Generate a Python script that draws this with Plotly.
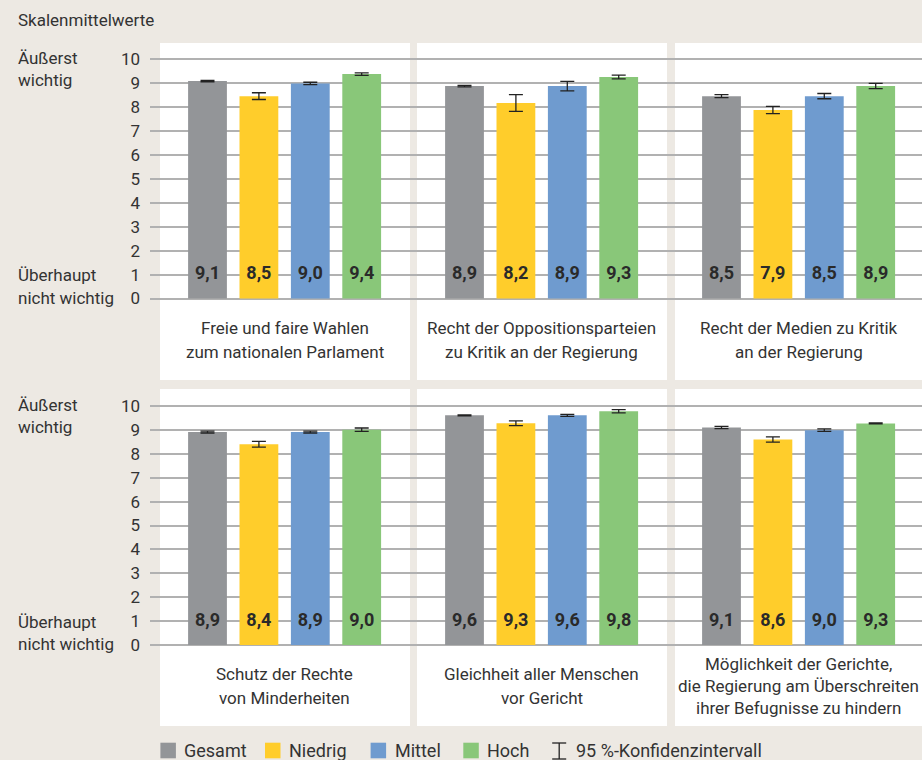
import plotly.graph_objects as go

# ---------------- data ----------------
groups = ["Gesamt", "Niedrig", "Mittel", "Hoch"]
group_colors = ["#939598", "#ffcd2b", "#6f9bcf", "#89c779"]

categories = [
    ["Freie und faire Wahlen", "zum nationalen Parlament"],
    ["Recht der Oppositionsparteien", "zu Kritik an der Regierung"],
    ["Recht der Medien zu Kritik", "an der Regierung"],
    ["Schutz der Rechte", "von Minderheiten"],
    ["Gleichheit aller Menschen", "vor Gericht"],
    ["Möglichkeit der Gerichte,", "die Regierung am Überschreiten", "ihrer Befugnisse zu hindern"],
]

mean_gesamt = [9.08, 8.87, 8.45, 8.91, 9.61, 9.10]
mean_niedrig = [8.45, 8.16, 7.87, 8.40, 9.28, 8.60]
mean_mittel = [8.98, 8.87, 8.45, 8.91, 9.61, 8.99]
mean_hoch = [9.37, 9.25, 8.87, 9.01, 9.78, 9.27]

ci_gesamt = [0.03, 0.03, 0.06, 0.04, 0.02, 0.05]
ci_niedrig = [0.14, 0.35, 0.15, 0.12, 0.10, 0.11]
ci_mittel = [0.05, 0.20, 0.11, 0.04, 0.04, 0.05]
ci_hoch = [0.05, 0.08, 0.11, 0.07, 0.07, 0.02]

label_gesamt = ["9,1", "8,9", "8,5", "8,9", "9,6", "9,1"]
label_niedrig = ["8,5", "8,2", "7,9", "8,4", "9,3", "8,6"]
label_mittel = ["9,0", "8,9", "8,5", "8,9", "9,6", "9,0"]
label_hoch = ["9,4", "9,3", "8,9", "9,0", "9,8", "9,3"]

y_ticks = list(range(0, 11))
legend_ci_text = "95 %-Konfidenzintervall"
title_text = "Skalenmittelwerte"
top_label = ["Äußerst", "wichtig"]
bottom_label = ["Überhaupt", "nicht wichtig"]

means = [mean_gesamt, mean_niedrig, mean_mittel, mean_hoch]
cis = [ci_gesamt, ci_niedrig, ci_mittel, ci_hoch]
labels = [label_gesamt, label_niedrig, label_mittel, label_hoch]

# ---------------- layout constants ----------------
W, H = 922, 760
FONT = "Roboto"
TXT = "#333333"
BG = "#ede9e3"
FS = 17

def py(p):  # pixel y -> paper
    return 1 - p / H

def px(p):
    return p / W

unit_x = 51.4          # px per bar slot
first_bar_px = 207.5
x_range = [(150 - first_bar_px) / unit_x, (W - first_bar_px) / unit_x]

row_zero_px = [298.5, 645.0]
row_ten_px = [59.0, 406.0]
y_range = [-0.5, 10.5]

panel_left = [160, 417, 675]
panel_right = [410, 667, 922]
row_top = [43, 389]
row_bottom = [380, 726]
label_center_px = [340, 686]

fig = go.Figure()

axis_names = [("x", "y"), ("x2", "y2")]

for r in range(2):
    xa, ya = axis_names[r]
    for gi, g in enumerate(groups):
        xs = [5 * p + gi for p in range(3)]
        vals = means[gi][3 * r:3 * r + 3]
        errs = cis[gi][3 * r:3 * r + 3]
        fig.add_trace(go.Bar(
            x=xs, y=vals, width=0.755,
            marker=dict(color=group_colors[gi], line=dict(width=0)),
            error_y=dict(type="data", array=errs, visible=True,
                         color="#222222", thickness=1.3, width=7),
            xaxis=xa, yaxis=ya, showlegend=False, hoverinfo="skip",
        ))
        fig.add_trace(go.Scatter(
            x=xs, y=[1] * 3, mode="text",
            text=labels[gi][3 * r:3 * r + 3],
            textfont=dict(family=FONT, size=18, color="#2a2a2a", weight="bold"),
            xaxis=xa, yaxis=ya, showlegend=False, hoverinfo="skip",
        ))

shapes = []
annotations = []

for r in range(2):
    for p in range(3):
        shapes.append(dict(type="rect", xref="paper", yref="paper", layer="below",
                           x0=px(panel_left[p]), x1=px(panel_right[p]),
                           y0=py(row_bottom[r]), y1=py(row_top[r]),
                           fillcolor="white", line=dict(width=0)))

def add_lines(x, xref, xanchor, center, lines, spacing, size=FS):
    n = len(lines)
    for i, t in enumerate(lines):
        yc = center + (i - (n - 1) / 2) * spacing
        annotations.append(dict(text=t, x=x, xref=xref, xanchor=xanchor,
                                y=py(yc), yref="paper", yanchor="middle",
                                showarrow=False,
                                font=dict(family=FONT, size=size, color=TXT)))

for ci_, lines in enumerate(categories):
    r, p = divmod(ci_, 3)
    spacing = 23.4 if len(lines) == 2 else 21.8
    add_lines(5 * p + 1.5, "x" if r == 0 else "x2", "center",
              label_center_px[r], lines, spacing)

for r in range(2):
    add_lines(px(16), "paper", "left", row_ten_px[r] + 10, top_label, 22)
    add_lines(px(16), "paper", "left", row_zero_px[r] - 12, bottom_label, 22.5)

annotations.append(dict(text=title_text, x=px(16), xref="paper", xanchor="left",
                        y=py(20), yref="paper", yanchor="middle", showarrow=False,
                        font=dict(family=FONT, size=FS, color=TXT)))

# legend (manual)
leg_y0, leg_y1 = 742.7, 758.3
leg_sq_x = [160.4, 265.0, 370.6, 463.3]
for gi, g in enumerate(groups):
    x0 = leg_sq_x[gi]
    shapes.append(dict(type="rect", xref="paper", yref="paper",
                       x0=px(x0), x1=px(x0 + 15.5), y0=py(leg_y1), y1=py(leg_y0),
                       fillcolor=group_colors[gi], line=dict(width=0)))
    annotations.append(dict(text=g, x=px(x0 + 22), xref="paper", xanchor="left",
                            y=py(750.5), yref="paper", yanchor="middle", showarrow=False,
                            font=dict(family=FONT, size=18, color=TXT)))
icx = 559.2
for (a, b, c, d) in [(icx, 743, icx, 759), (icx - 7, 743, icx + 7, 743), (icx - 7, 759, icx + 7, 759)]:
    shapes.append(dict(type="line", xref="paper", yref="paper",
                       x0=px(a), x1=px(c), y0=py(b), y1=py(d),
                       line=dict(color="#222222", width=1.3)))
annotations.append(dict(text=legend_ci_text, x=px(574), xref="paper", xanchor="left",
                        y=py(750.5), yref="paper", yanchor="middle", showarrow=False,
                        font=dict(family=FONT, size=18, color=TXT)))

def ydomain(r):
    per = (row_zero_px[r] - row_ten_px[r]) / 10
    bot = row_zero_px[r] + 0.5 * per
    top = row_ten_px[r] - 0.5 * per
    return [py(bot), py(top)]

xaxis_common = dict(range=x_range, domain=[px(150), 1], showgrid=False, zeroline=False,
                    showticklabels=False, ticks="", showline=False, fixedrange=True)
yaxis_common = dict(range=y_range, tickvals=y_ticks, showgrid=True, gridcolor="#b1b1b1",
                    gridwidth=1.6, zeroline=False, showline=False, ticks="",
                    ticklabelstandoff=9, tickfont=dict(family=FONT, size=FS, color=TXT),
                    fixedrange=True)

fig.update_layout(
    width=W, height=H,
    margin=dict(l=0, r=0, t=0, b=0),
    paper_bgcolor=BG, plot_bgcolor="rgba(0,0,0,0)",
    barmode="overlay",
    showlegend=False,
    xaxis=dict(**xaxis_common, anchor="y"),
    yaxis=dict(**yaxis_common, domain=ydomain(0), anchor="x"),
    xaxis2=dict(**xaxis_common, anchor="y2"),
    yaxis2=dict(**yaxis_common, domain=ydomain(1), anchor="x2"),
    shapes=shapes,
    annotations=annotations,
    font=dict(family=FONT, color=TXT),
)

fig.write_html("out.html", config={"displayModeBar": False},
               post_script="document.body.style.margin='0';document.body.style.overflow='hidden';")
